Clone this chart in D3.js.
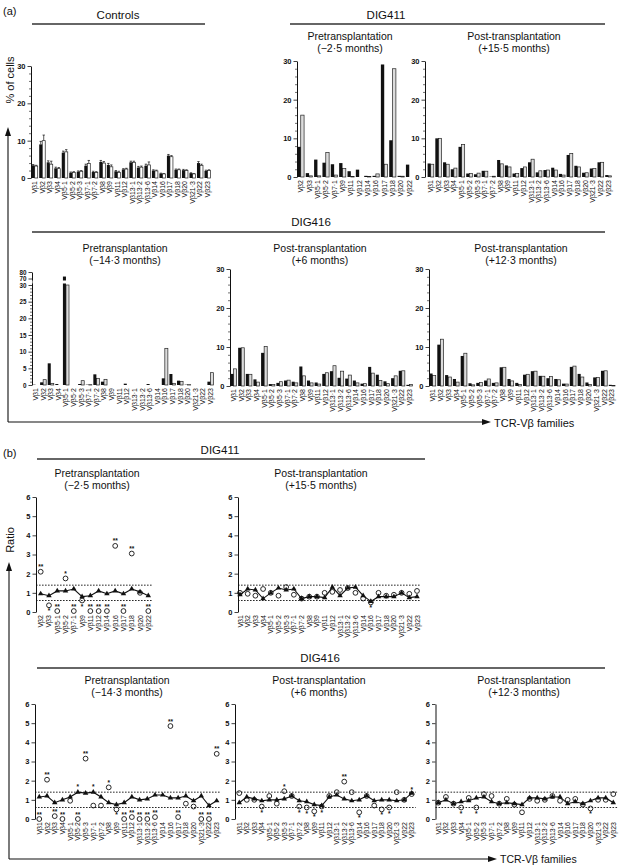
<!DOCTYPE html>
<html><head><meta charset="utf-8">
<script src="https://cdn.jsdelivr.net/npm/d3@7"></script>
<style>
body{margin:0;background:#fff}
svg{display:block}
text{font-family:"Liberation Sans",Arial,Helvetica,sans-serif;fill:#111}
</style>
</head><body>
<svg id="c" width="619" height="866"></svg>
<script>
// ---------- categories ----------
const fam24 = ["Vβ1","Vβ2","Vβ3","Vβ4","Vβ5·1","Vβ5·2","Vβ5·3","Vβ7·1","Vβ7·2","Vβ8","Vβ9","Vβ11","Vβ12","Vβ13·1","Vβ13·2","Vβ13·6","Vβ14","Vβ16","Vβ17","Vβ18","Vβ20","Vβ21·3","Vβ22","Vβ23"];
const fam14 = ["Vβ2","Vβ3","Vβ5·1","Vβ5·2","Vβ7·1","Vβ9","Vβ11","Vβ12","Vβ14","Vβ16","Vβ17","Vβ18","Vβ20","Vβ22"];

// ---------- tick labels ----------
const barTicks = [0,10,20,30];
const barMinor = [2,4,6,8,12,14,16,18,22,24,26,28];
const brokenTicks = [0,5,10,15,20,25,30,70,80];
const brokenMinor = [1,2,3,4,6,7,8,9,11,12,13,14,16,17,18,19,21,22,23,24,26,27,28,29];
const ratioTicks = [0,1,2,3,4,5,6];
const refLines = [0.6,1.4];

// ---------- (a) % of cells ----------
const controlsBlack    = [3.4,9.0,4.2,2.6,6.8,1.4,1.7,3.3,1.6,4.3,3.5,1.8,2.3,4.2,2.8,3.3,2.0,1.2,6.0,2.2,2.1,1.3,4.0,1.9];
const controlsWhite    = [3.2,10.0,3.7,2.5,7.0,1.5,1.8,3.9,1.5,4.0,3.0,1.5,2.4,4.2,2.9,3.5,1.9,1.1,5.7,2.2,2.0,1.1,3.4,2.0];
const controlsBlackErr = [0.2,0.8,0.4,0.3,0.4,0.2,0.2,0.4,0.2,0.4,0.4,0.2,0.2,0.3,0.3,0.4,0.2,0.1,0.3,0.2,0.2,0.1,0.4,0.2];
const controlsWhiteErr = [0.2,1.5,0.8,0.3,0.6,0.2,0.2,0.8,0.2,0.4,0.5,0.3,0.2,0.3,0.3,0.8,0.2,0.1,0.3,0.2,0.2,0.1,0.3,0.2];

const dig411PreBlack  = [7.8,1.0,4.5,3.7,3.3,3.6,1.5,1.9,0.3,0.3,29.1,9.5,0.3,3.2];
const dig411PreWhite  = [16.0,0.3,0.3,6.3,0.5,2.2,0.1,0,0.1,0.8,3.3,28.0,0.2,0];
const dig411PostBlack = [3.5,10.0,3.8,2.0,7.8,0.9,0.7,1.6,0.1,4.4,3.0,0.9,2.3,3.8,1.2,1.8,2.4,0.8,5.7,2.9,1.1,2.2,3.8,0.5];
const dig411PostWhite = [3.3,10.0,3.3,2.3,8.4,0.9,1.0,1.5,0.2,3.4,2.6,0.9,2.6,4.6,1.6,1.8,1.8,0.5,6.1,2.6,1.1,2.2,3.8,0.3];

const dig416PreBlack  = [0.1,0.8,6.5,0.3,73,0,0.3,0.1,3.2,1.0,0,0,0.4,0,0,0.3,0,2.0,3.3,1.3,0.1,0,0,1.0];
const dig416PreWhite  = [0,1.6,0.5,0,30,0,1.3,0.1,2.0,1.7,0,0,0,0,0,0,0,11.0,0.5,1.1,0.1,0,0,3.7];
const dig416M6Black   = [3.1,9.8,3.1,1.7,8.5,0.5,0.8,1.4,1.1,5.0,1.4,0.9,3.1,3.8,2.1,1.9,1.4,0.6,4.9,2.9,1.2,2.0,3.9,0.3];
const dig416M6White   = [4.4,9.8,3.0,1.0,10.1,0.4,1.1,1.5,0.8,2.6,0.8,0.5,3.4,5.2,3.8,2.8,0.8,0.6,3.3,1.4,0.6,2.6,3.9,0.4];
const dig416M12Black  = [3.2,10.6,2.8,1.8,7.7,0.7,0.8,1.4,0.8,4.8,1.8,0.8,2.9,3.8,2.6,2.0,1.8,0.6,4.9,3.1,0.9,2.2,3.9,0.3];
const dig416M12White  = [2.7,12.0,2.3,1.0,8.4,0.3,0.9,1.8,0.8,4.8,1.3,0.4,3.0,3.8,2.5,2.4,1.6,0.5,5.1,2.3,0.4,2.2,3.9,0.1];

// ---------- (b) ratios ----------
const r411PreTri   = [0.95,0.85,1.1,1.1,1.2,0.8,0.85,1.1,0.95,1.1,0.95,1.2,1.05,0.85];
const r411PreCirc  = [2.1,0.35,0.05,1.75,0.05,0.6,0.05,0.05,0.05,3.45,0.05,3.05,1.0,0.05];
const r411PreSig   = ["**","*","**","*","**","*","**","**","**","**","**","**","","**"];

const r411PostTri  = [0.9,1.2,1.15,0.7,1.0,1.25,1.15,1.2,0.7,0.8,0.8,0.75,1.3,0.85,1.25,1.3,0.85,0.55,0.8,0.8,0.8,1.0,0.75,0.8];
const r411PostCirc = [1.0,0.95,0.85,1.2,1.0,0.85,1.3,0.9,0.7,0.8,0.8,1.0,1.05,1.15,1.25,1.0,0.7,0.5,1.0,0.85,0.9,1.0,0.95,1.1];
const r411PostSig  = ["","","","","","","","","","","","","","","","","","*","","","","","",""];

const r416PreTri    = [1.15,1.2,0.85,1.0,1.15,1.4,1.35,1.4,1.15,0.85,0.75,0.85,1.15,1.0,1.05,1.25,1.25,1.1,1.1,1.2,0.95,1.2,0.7,0.95];
const r416PreTriSig = ["","","","","","*","","*","","","","","","","","","","","","","","","",""];
const r416PreCirc   = [0,2.05,0.15,0,0.95,0,3.15,0.7,0.7,1.65,0.5,0,0.1,0,0,0.1,null,4.85,0.1,0.8,0.65,0,0,3.4];
const r416PreSig    = ["**","**","**","**","","**","**","","","*","*","**","**","**","**","**","","**","**","","","**","**","**"];

const r416M6Tri  = [0.85,1.15,1.05,0.95,1.0,1.0,1.05,1.2,0.95,0.9,0.75,0.7,1.15,1.25,1.05,0.95,1.0,1.2,0.95,1.0,1.0,0.95,1.0,1.35];
const r416M6Circ = [1.35,1.0,1.0,0.65,1.2,0.8,1.45,1.2,0.65,0.6,0.4,0.65,1.2,1.4,1.95,1.4,0.35,1.2,0.7,0.5,0.6,1.4,1.0,1.3];
const r416M6Sig  = ["","","","*","","","*","","*","*","*","*","","","**","","*","","","*","*","","","*"];

const r416M12Tri  = [0.85,1.0,0.8,0.9,0.95,1.1,1.15,0.9,0.8,0.85,0.8,0.75,1.1,1.1,1.05,1.15,1.15,0.8,0.9,0.8,0.95,1.1,1.1,0.85];
const r416M12Circ = [0.85,1.15,0.8,0.6,1.1,0.6,1.3,1.2,0.8,1.05,0.75,0.35,1.05,0.95,1.0,1.2,0.95,1.0,1.05,0.75,0.55,1.0,1.0,1.3];
const r416M12Sig  = ["","","","*","","*","","","","","","","","","","","","","","","*","","",""];

// =====================================================
const svg = d3.select("#c");
const INK = "#111";

function txt(x, y, s, size, anchor, extra) {
  const t = svg.append("text").attr("x", x).attr("y", y).attr("font-size", size)
    .attr("text-anchor", anchor || "middle").text(s);
  if (extra) extra(t);
  return t;
}
function hline(x1, x2, y, w) {
  svg.append("line").attr("x1", x1).attr("x2", x2).attr("y1", y).attr("y2", y)
    .attr("stroke", "#333").attr("stroke-width", w || 1.3);
}
function subtitle(cx, y, l1, l2) {
  txt(cx, y, l1, 10.5);
  txt(cx, y + 12, l2, 10.5);
}
function styleAxis(g, fs) {
  g.select(".domain").attr("stroke", INK).attr("stroke-width", 1);
  g.selectAll(".tick line").attr("stroke", INK).attr("stroke-width", 0.8);
  g.selectAll(".tick text").attr("font-size", fs || 7.5).attr("fill", INK)
    .attr("font-family", "'Liberation Sans',Arial,sans-serif").attr("font-weight", "bold");
}
function catLabels(g, cats, xc, y0) {
  g.selectAll("text.cat").data(cats).join("text").attr("class", "cat")
    .attr("font-size", 7).attr("text-anchor", "end")
    .attr("transform", d => `translate(${xc(d) + 2.5},${y0 + 3}) rotate(-90)`)
    .text(d => d);
}

// ---------- bar panel ----------
function barPanel(cfg) {
  const g = svg.append("g");
  const x = d3.scaleBand().domain(cfg.cats).range(cfg.xr).paddingInner(0.2);
  const sub = d3.scaleBand().domain([0, 1]).range([0, x.bandwidth()]);
  const y = cfg.y;
  const ax = g.append("g").attr("transform", `translate(${cfg.ax},0)`)
    .call(d3.axisLeft(y).tickValues(cfg.ticks).tickSize(3.5).tickSizeOuter(0).tickPadding(2).tickFormat(d3.format("d")));
  styleAxis(ax, cfg.fs);
  const mn = g.append("g").attr("transform", `translate(${cfg.ax},0)`)
    .call(d3.axisLeft(y).tickValues(cfg.minor).tickSize(2).tickSizeOuter(0).tickFormat(""));
  mn.select(".domain").remove();
  mn.selectAll(".tick line").attr("stroke", INK).attr("stroke-width", 0.6);

  const rows = cfg.cats.map((c, i) => ({c, b: cfg.black[i], w: cfg.white[i],
    be: cfg.bErr ? cfg.bErr[i] : 0, we: cfg.wErr ? cfg.wErr[i] : 0}));
  const bw = sub.bandwidth();
  if (cfg.bErr) {
    const eb = [];
    rows.forEach(r => {
      eb.push({x: x(r.c) + sub(0) + bw / 2, v: r.b, e: r.be});
      eb.push({x: x(r.c) + sub(1) + bw / 2, v: r.w, e: r.we});
    });
    g.selectAll("path.err").data(eb).join("path").attr("class", "err")
      .attr("d", d => `M${d.x},${y(d.v)}V${y(d.v + d.e)}M${d.x - 1.2},${y(d.v + d.e)}H${d.x + 1.2}`)
      .attr("stroke", INK).attr("stroke-width", 0.7).attr("fill", "none");
  }
  g.selectAll("rect.w").data(rows).join("rect").attr("class", "w")
    .attr("x", d => x(d.c) + sub(1)).attr("width", bw)
    .attr("y", d => y(d.w)).attr("height", d => y(0) - y(d.w))
    .attr("fill", cfg.wfill || "#dcdcdc").attr("stroke", "#222").attr("stroke-width", 0.7);
  g.selectAll("rect.b").data(rows).join("rect").attr("class", "b")
    .attr("x", d => x(d.c) + sub(0)).attr("width", bw)
    .attr("y", d => y(d.b)).attr("height", d => y(0) - y(d.b))
    .attr("fill", INK);
  if (cfg.breakAt) {
    g.append("rect").attr("x", cfg.xr[0]).attr("width", cfg.xr[1] - cfg.xr[0])
      .attr("y", cfg.breakAt[0]).attr("height", cfg.breakAt[1] - cfg.breakAt[0]).attr("fill", "#fff");
  }
  catLabels(g, cfg.cats, c => x(c) + x.bandwidth() / 2, y(0));
}

// ---------- ratio panel ----------
function ratioPanel(cfg) {
  const g = svg.append("g");
  const x = d3.scalePoint().domain(cfg.cats).range(cfg.xr);
  const y = d3.scaleLinear().domain([0, 6]).range(cfg.yr);
  const ax = g.append("g").attr("transform", `translate(${cfg.ax},0)`)
    .call(d3.axisLeft(y).tickValues(ratioTicks).tickSize(3.5).tickSizeOuter(0).tickPadding(2).tickFormat(d3.format("d")));
  styleAxis(ax);
  g.selectAll("line.ref").data(refLines).join("line").attr("class", "ref")
    .attr("x1", cfg.ax).attr("x2", cfg.xr[1] + 4)
    .attr("y1", d => y(d)).attr("y2", d => y(d))
    .attr("stroke", INK).attr("stroke-width", 0.9).attr("stroke-dasharray", "1.6,1.4");
  const tri = cfg.cats.map((c, i) => ({c, v: cfg.tri[i], s: cfg.triSig ? cfg.triSig[i] : ""}));
  g.append("path").datum(tri)
    .attr("d", d3.line().x(d => x(d.c)).y(d => y(d.v)))
    .attr("fill", "none").attr("stroke", INK).attr("stroke-width", 1.1);
  g.selectAll("path.tri").data(tri).join("path").attr("class", "tri")
    .attr("transform", d => `translate(${x(d.c)},${y(d.v)})`)
    .attr("d", d3.symbol(d3.symbolTriangle, 13)).attr("fill", INK);
  const circ = cfg.cats.map((c, i) => ({c, v: cfg.circ[i], s: cfg.sig[i]})).filter(d => d.v !== null);
  g.selectAll("circle.o").data(circ).join("circle").attr("class", "o")
    .attr("cx", d => x(d.c)).attr("cy", d => y(d.v)).attr("r", 2.4)
    .attr("fill", "none").attr("stroke", INK).attr("stroke-width", 0.9);
  const below = v => v > 0.2 && v < 1;
  g.selectAll("text.sig").data(circ.filter(d => d.s)).join("text").attr("class", "sig")
    .attr("x", d => x(d.c)).attr("y", d => below(d.v) ? y(d.v) + 8 : y(d.v) - 2.5)
    .attr("font-size", 6.5).attr("font-weight", "bold").attr("text-anchor", "middle").text(d => d.s);
  g.selectAll("text.tsig").data(tri.filter(d => d.s)).join("text").attr("class", "tsig")
    .attr("x", d => x(d.c)).attr("y", d => y(d.v) - 3)
    .attr("font-size", 6.5).attr("font-weight", "bold").attr("text-anchor", "middle").text(d => d.s);
  catLabels(g, cfg.cats, c => x(c), y(0));
}

// ================= (a) =================
txt(3, 15, "(a)", 11, "start");
txt(118, 19, "Controls", 11.5);
hline(32, 205, 24);
txt(386, 19, "DIG411", 11.5);
hline(290, 605, 24);
subtitle(350, 40, "Pretransplantation", "(−2·5 months)");
subtitle(514, 40, "Post-transplantation", "(+15·5 months)");

barPanel({cats: fam24, black: controlsBlack, white: controlsWhite, bErr: controlsBlackErr, wErr: controlsWhiteErr,
  xr: [31.7, 210.5], ax: 31, y: d3.scaleLinear().domain([0, 30]).range([178, 66]),
  ticks: barTicks, minor: barMinor, wfill: "#fff"});
barPanel({cats: fam14, black: dig411PreBlack, white: dig411PreWhite,
  xr: [297.4, 412.6], ax: 297, y: d3.scaleLinear().domain([0, 30]).range([177, 61]),
  ticks: barTicks, minor: barMinor});
barPanel({cats: fam24, black: dig411PostBlack, white: dig411PostWhite,
  xr: [427.6, 611.4], ax: 425, y: d3.scaleLinear().domain([0, 30]).range([177, 61]),
  ticks: barTicks, minor: barMinor});

txt(311, 226, "DIG416", 11.5);
hline(32, 605, 232);
subtitle(125, 252, "Pretransplantation", "(−14·3 months)");
subtitle(320, 252, "Post-transplantation", "(+6 months)");
subtitle(521, 252, "Post-transplantation", "(+12·3 months)");

barPanel({cats: fam24, black: dig416PreBlack, white: dig416PreWhite,
  xr: [32.5, 213.5], ax: 32, y: d3.scaleLinear().domain([0, 30, 70, 80]).range([385, 285, 278.5, 272]),
  ticks: brokenTicks, minor: brokenMinor, fs: 6.3, breakAt: [280.5, 283.5]});
barPanel({cats: fam24, black: dig416M6Black, white: dig416M6White,
  xr: [230.5, 412.5], ax: 230, y: d3.scaleLinear().domain([0, 30]).range([386, 269]),
  ticks: barTicks, minor: barMinor});
barPanel({cats: fam24, black: dig416M12Black, white: dig416M12White,
  xr: [429.5, 615], ax: 429, y: d3.scaleLinear().domain([0, 30]).range([386, 269]),
  ticks: barTicks, minor: barMinor});

// (a) axis arrows
svg.append("path").attr("d", "M8,422V134M8,422H484").attr("stroke", INK).attr("stroke-width", 1.1).attr("fill", "none");
svg.append("path").attr("d", "M8,127L5,136L11,136Z").attr("fill", INK);
svg.append("path").attr("d", "M491,422L482,419L482,425Z").attr("fill", INK);
txt(14, 80, "% of cells", 11, "middle", t => t.attr("transform", "rotate(-90,14,80)"));
txt(494, 426.5, "TCR-Vβ families", 11, "start");

// ================= (b) =================
txt(3, 457, "(b)", 11, "start");
txt(220, 454, "DIG411", 11.5);
hline(37, 425, 459);
subtitle(97, 477, "Pretransplantation", "(−2·5 months)");
subtitle(321, 477, "Post-transplantation", "(+15·5 months)");

ratioPanel({cats: fam14, tri: r411PreTri, circ: r411PreCirc, sig: r411PreSig,
  xr: [40.7, 148.3], ax: 36, yr: [612, 497]});
ratioPanel({cats: fam24, tri: r411PostTri, circ: r411PostCirc, sig: r411PostSig,
  xr: [240, 417], ax: 238, yr: [612, 497]});

txt(320, 662, "DIG416", 11.5);
hline(37, 605, 668);
subtitle(127, 684, "Pretransplantation", "(−14·3 months)");
subtitle(319, 684, "Post-transplantation", "(+6 months)");
subtitle(524, 684, "Post-transplantation", "(+12·3 months)");

ratioPanel({cats: fam24, tri: r416PreTri, triSig: r416PreTriSig, circ: r416PreCirc, sig: r416PreSig,
  xr: [39.3, 216.7], ax: 35, yr: [819, 704]});
ratioPanel({cats: fam24, tri: r416M6Tri, circ: r416M6Circ, sig: r416M6Sig,
  xr: [239.3, 411.7], ax: 235, yr: [819, 704]});
ratioPanel({cats: fam24, tri: r416M12Tri, circ: r416M12Circ, sig: r416M12Sig,
  xr: [438.3, 613.3], ax: 435.5, yr: [819, 704]});

svg.append("path").attr("d", "M9,859V569M9,859H490").attr("stroke", INK).attr("stroke-width", 1.1).attr("fill", "none");
svg.append("path").attr("d", "M9,562L6,571L12,571Z").attr("fill", INK);
svg.append("path").attr("d", "M497,859L488,856L488,862Z").attr("fill", INK);
txt(14, 540, "Ratio", 11, "middle", t => t.attr("transform", "rotate(-90,14,540)"));
txt(500, 863, "TCR-Vβ families", 10.5, "start");
</script>
</body></html>
